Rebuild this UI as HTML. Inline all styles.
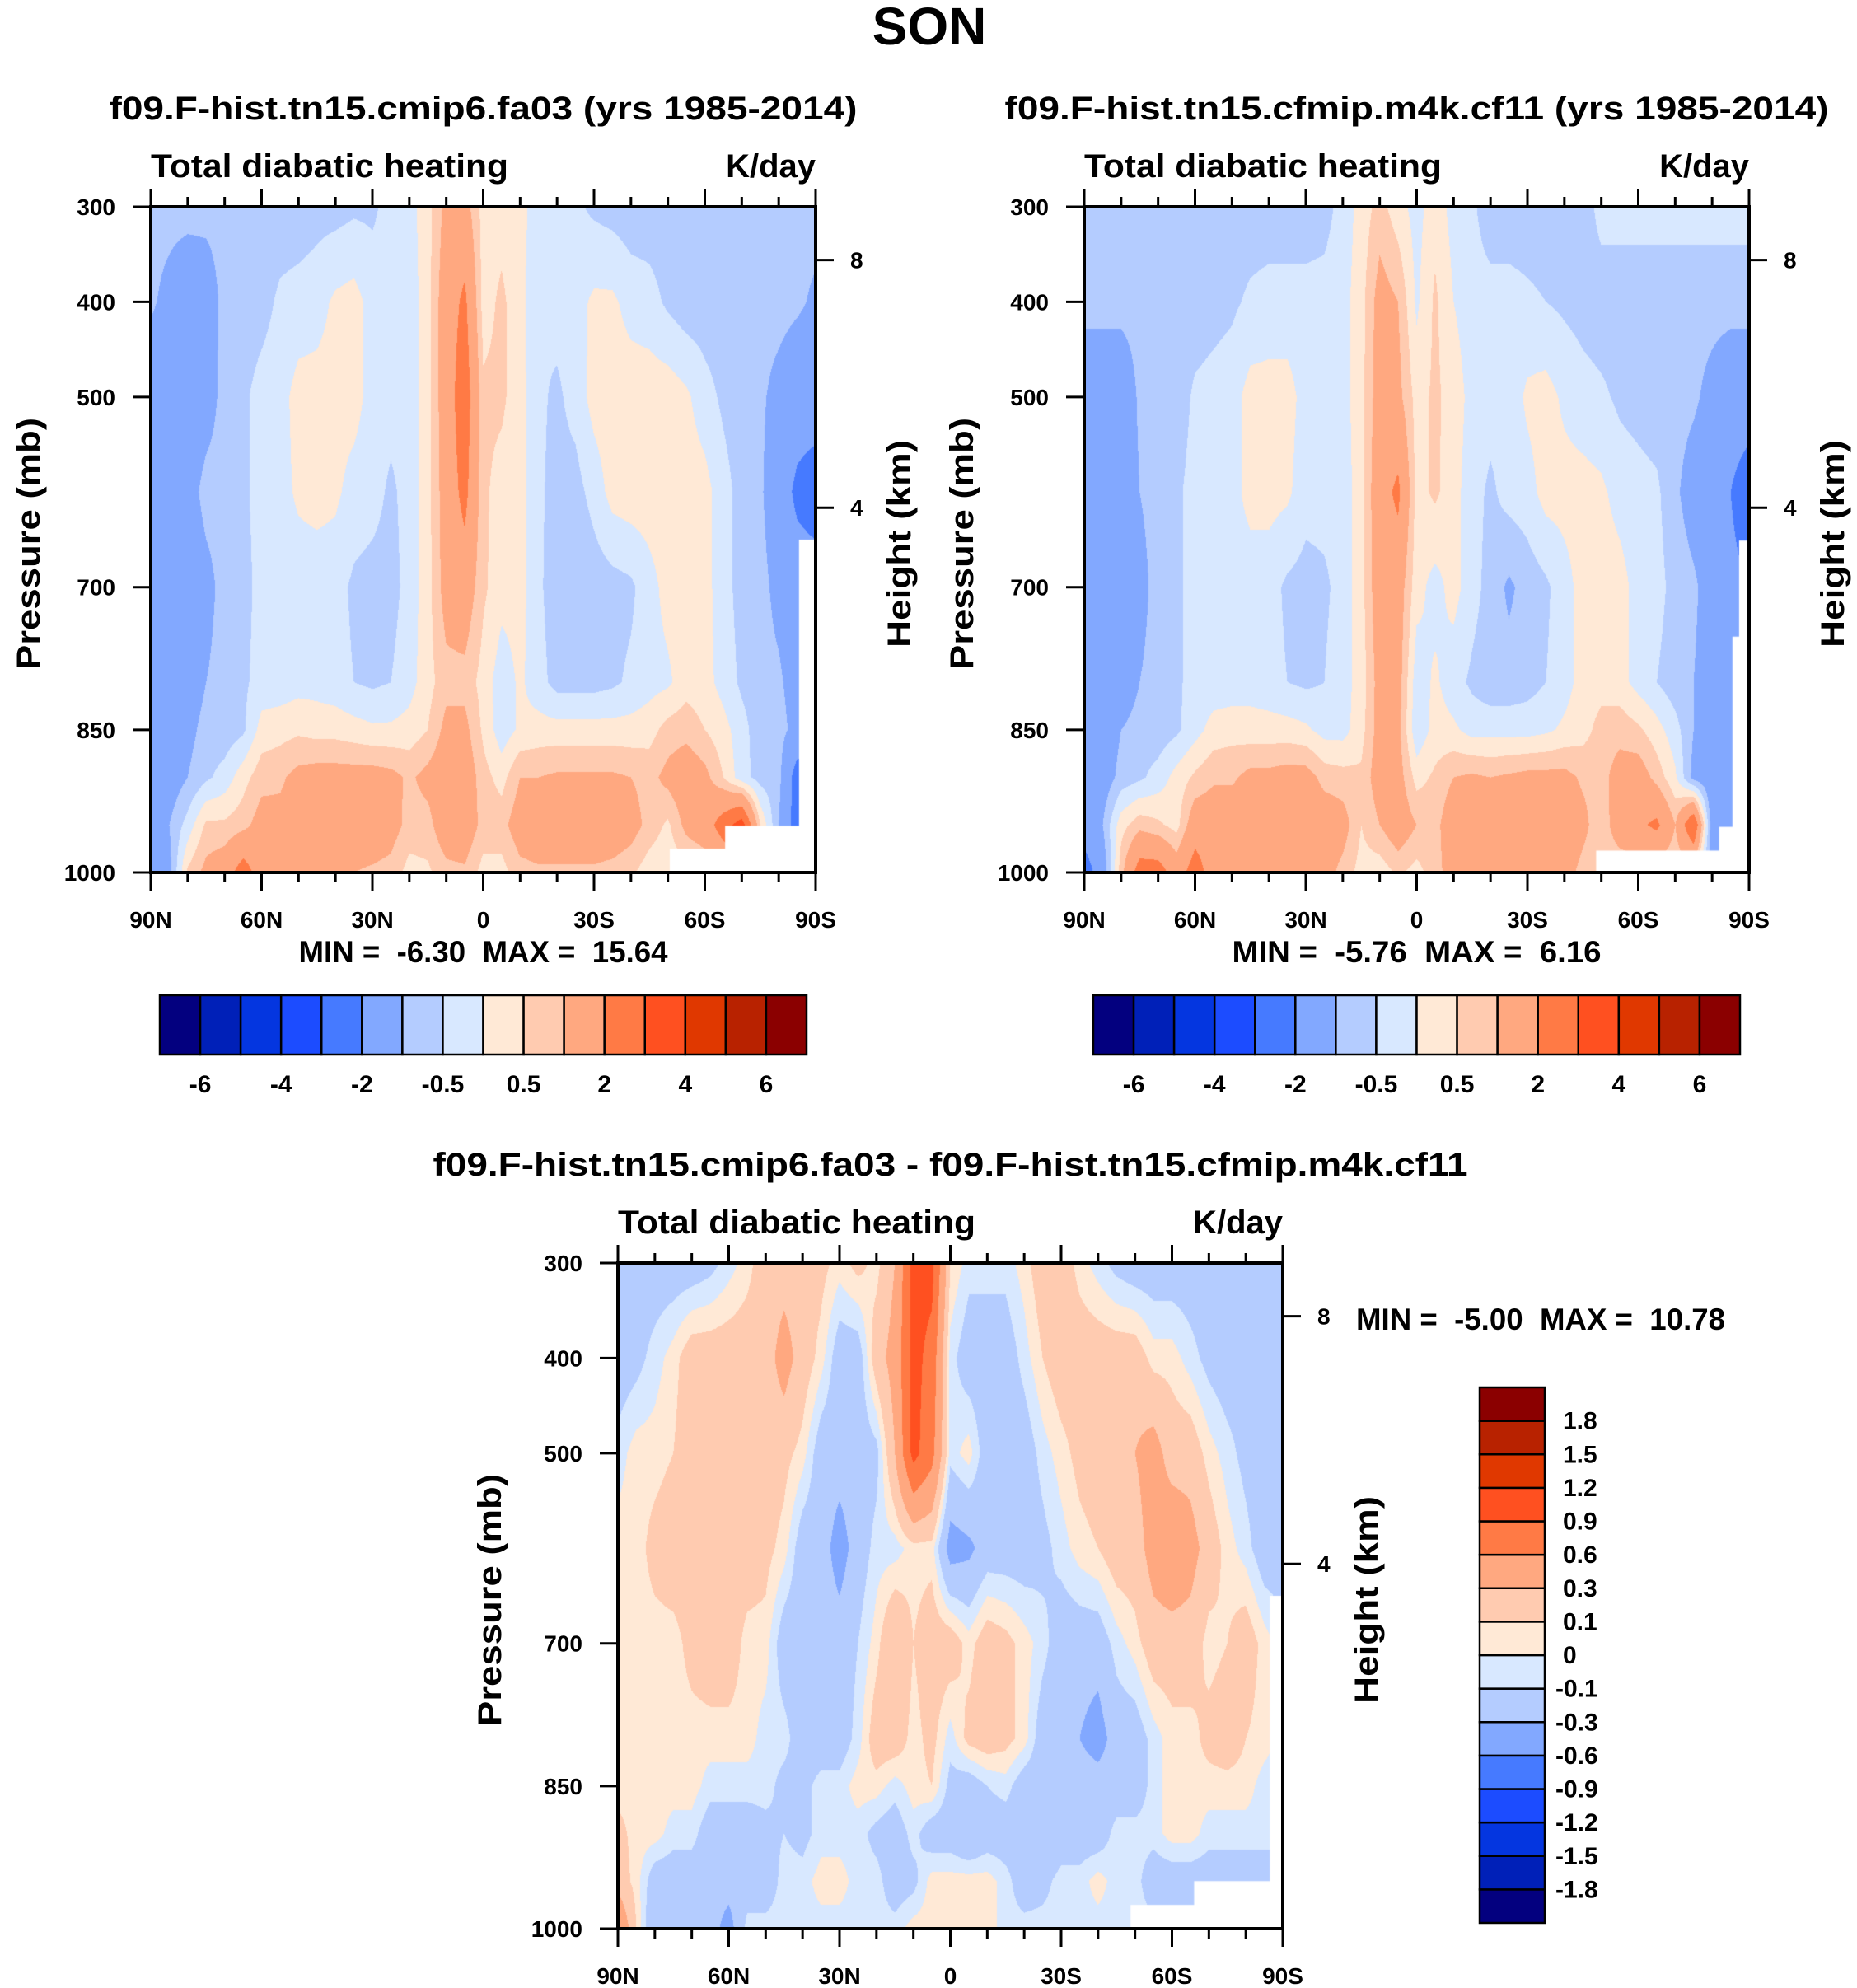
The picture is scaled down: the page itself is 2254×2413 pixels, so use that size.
<!DOCTYPE html>
<html><head><meta charset="utf-8"><style>
html,body{margin:0;padding:0;background:#fff;}
#root{position:relative;width:2254px;height:2413px;overflow:hidden;background:#fff;}
canvas{position:absolute;}
svg{position:absolute;left:0;top:0;}
text{font-family:"Liberation Sans",sans-serif;font-weight:bold;fill:#000;white-space:pre;}
</style></head><body>
<div id="root">
<canvas id="c1"></canvas>
<canvas id="c2"></canvas>
<canvas id="c3"></canvas>
<svg id="ov" width="2254" height="2413"></svg>
</div>
<script>
const lats=[90,85,80,75,70,65,60,55,50,45,40,35,30,25,20,15,10,5,0,-5,-10,-15,-20,-25,-30,-35,-40,-45,-50,-55,-60,-65,-70,-75,-80,-85,-90];
const levels=[300,400,500,600,700,800,850,900,950,1000];
const latTicks=["90N","60N","30N","0","30S","60S","90S"];
const latTickVals=[90,60,30,0,-30,-60,-90];
const pTicks=[300,400,500,700,850,1000];
const hTicks=[8,4];
const colors=["#03007f","#0020b8","#0436e0","#1c4cff","#467aff","#82a8ff","#b4ccff","#d8e8ff","#ffe9d6","#ffcbb0","#ffa880","#ff7a45","#ff5020","#e03800","#b82200","#8b0000"];
const bounds12=[-6,-5,-4,-3,-2,-1,-0.5,0,0.5,1,2,3,4,5,6];
const labels12=["-6","-4","-2","-0.5","0.5","2","4","6"];
const bounds3=[-1.8,-1.5,-1.2,-0.9,-0.6,-0.3,-0.1,0,0.1,0.3,0.6,0.9,1.2,1.5,1.8];
const labels3=["-1.8","-1.5","-1.2","-0.9","-0.6","-0.3","-0.1","0","0.1","0.3","0.6","0.9","1.2","1.5","1.8"];

const field1=[
[-0.8,-0.8,-0.8,-0.8,-0.8,-0.8,-0.8,-0.8,-0.8,-0.7,-0.7,-0.6,-0.6,-0.3,-0.2,0.3,1.2,1.3,0.3,0.3,0.2,-0.3,-0.3,-0.4,-0.6,-0.7,-0.8,-0.8,-0.8,-0.8,-0.8,-0.8,-0.8,-0.8,-0.8,-0.8,-0.8],
[-0.9,-1.2,-1.5,-1.4,-0.8,-0.8,-0.7,-0.4,-0.3,-0.2,0.1,0.2,-0.2,-0.3,-0.3,0.3,1.5,2.2,0.3,0.6,0.2,-0.5,-0.3,-0.2,0.1,0.1,-0.2,-0.3,-0.6,-0.8,-0.8,-0.8,-0.8,-0.8,-0.8,-0.9,-1.1],
[-1.5,-1.5,-1.5,-1.3,-0.8,-0.6,-0.3,-0.2,0.2,0.2,0.2,0.2,-0.2,-0.3,-0.3,0.3,1.5,2.6,0.6,0.6,0.2,-0.4,-0.6,-0.3,0.2,0.3,0.3,0.3,0.3,0.1,-0.3,-0.6,-0.8,-0.9,-1.2,-1.5,-1.5],
[-1.5,-1.5,-1.3,-0.8,-0.8,-0.6,-0.3,-0.2,0.1,0.2,0.1,-0.2,-0.3,-0.6,-0.3,0.3,1.4,2.3,0.6,0.3,0.2,-0.4,-0.7,-0.7,-0.3,0.2,0.3,0.3,0.3,0.3,0.2,-0.3,-0.7,-0.9,-1.5,-2.2,-2.5],
[-1.5,-1.5,-1.5,-1.2,-0.8,-0.7,-0.3,-0.3,-0.3,-0.3,-0.3,-0.6,-0.7,-0.7,-0.3,0.3,1.3,1.5,0.6,0.2,0.2,-0.4,-0.8,-1.0,-0.8,-0.7,-0.6,-0.2,0.2,0.3,0.2,-0.3,-0.7,-0.8,-1.2,-1.5,-1.5],
[-1.5,-1.5,-1.4,-1.0,-0.8,-0.6,-0.3,-0.3,-0.2,-0.2,-0.3,-0.5,-0.6,-0.5,-0.2,0.3,0.8,0.8,0.3,-0.3,0.1,-0.3,-0.7,-0.7,-0.7,-0.6,-0.4,-0.2,-0.1,0.3,0.2,-0.2,-0.6,-0.8,-0.9,-1.3,-1.5],
[-1.5,-1.5,-1.2,-0.8,-0.8,-0.6,0.2,0.3,0.4,0.3,0.3,0.2,0.1,0.1,0.2,0.5,1.2,1.2,0.4,-0.3,0.1,0.2,0.2,0.2,0.2,0.2,0.2,0.3,0.7,0.8,0.5,0.2,-0.3,-0.8,-0.8,-1.2,-1.5],
[-1.5,-1.4,-1.0,-0.6,-0.3,0.3,0.8,0.9,1.2,1.3,1.3,1.3,1.3,1.2,0.9,1.2,1.5,1.5,0.7,0.3,1.0,1.0,1.1,1.1,1.1,1.1,1.0,0.8,1.2,1.5,1.2,0.5,-0.3,-0.7,-0.8,-2.5,-2.5],
[-1.5,-1.0,-0.3,0.6,0.6,0.8,1.3,1.2,1.3,1.5,1.5,1.5,1.5,1.3,0.8,0.8,1.5,1.5,0.8,0.8,1.4,1.5,1.5,1.5,1.5,1.5,1.3,0.8,0.4,1.2,1.5,2.5,3.5,0.5,-1.0,-2.5,-2.5],
[-1.5,-1.2,0.6,1.2,1.5,2.5,1.5,1.0,1.2,1.2,1.0,1.0,0.9,0.8,0.3,0.4,0.8,0.9,0.3,0.3,0.8,0.9,0.9,0.9,0.9,0.8,0.6,0.2,0.1,0.3,0.5,1.0,0.5,0.2,-0.5,-1.0,-1.0]
];
const field2=[
[-0.8,-0.8,-0.8,-0.8,-0.8,-0.8,-0.8,-0.8,-0.8,-0.8,-0.8,-0.8,-0.8,-0.7,-0.3,0.2,0.7,0.2,-0.2,0.3,-0.2,-0.4,-0.8,-0.8,-0.8,-0.8,-0.8,-0.8,-0.3,-0.3,-0.3,-0.3,-0.3,-0.3,-0.3,-0.3,-0.3],
[-0.8,-0.8,-0.8,-0.8,-0.8,-0.8,-0.8,-0.7,-0.6,-0.4,-0.3,-0.3,-0.3,-0.3,-0.2,0.3,1.3,1.0,-0.1,0.6,0.0,-0.3,-0.3,-0.3,-0.4,-0.5,-0.6,-0.7,-0.8,-0.8,-0.8,-0.8,-0.8,-0.8,-0.8,-0.8,-0.8],
[-1.5,-1.5,-1.5,-0.9,-0.8,-0.8,-0.4,-0.3,-0.2,0.2,0.2,0.2,-0.2,-0.3,-0.2,0.3,1.4,1.2,0.3,0.6,0.3,-0.2,-0.3,-0.3,0.1,0.2,-0.1,-0.3,-0.4,-0.6,-0.7,-0.8,-0.8,-0.9,-1.2,-1.5,-1.5],
[-1.5,-1.5,-1.5,-1.0,-0.8,-0.6,-0.3,-0.3,-0.2,0.2,0.2,0.1,-0.3,-0.3,-0.3,0.3,1.6,2.2,0.3,0.6,0.2,-0.3,-0.6,-0.3,-0.2,0.2,0.2,0.2,0.1,-0.2,-0.3,-0.4,-0.9,-1.3,-1.5,-2.0,-2.5],
[-1.5,-1.5,-1.5,-1.2,-0.8,-0.6,-0.3,-0.3,-0.3,-0.3,-0.3,-0.6,-0.7,-0.6,-0.3,0.3,1.5,1.4,0.2,-0.2,0.2,-0.3,-0.7,-1.1,-0.8,-0.6,-0.2,0.2,0.3,0.2,-0.2,-0.3,-0.7,-0.9,-1.3,-1.8,-2.0],
[-1.5,-1.5,-1.4,-1.0,-0.8,-0.6,-0.3,-0.3,-0.3,-0.2,-0.3,-0.5,-0.6,-0.5,-0.2,0.2,1.3,1.3,-0.3,0.1,-0.3,-0.6,-0.8,-0.8,-0.7,-0.5,-0.2,0.2,0.3,0.2,-0.2,-0.5,-0.8,-1.0,-1.3,-1.5,-2.0],
[-1.5,-1.5,-1.0,-0.8,-0.8,-0.6,-0.2,0.2,0.3,0.2,0.2,0.2,0.1,-0.2,-0.2,0.3,1.3,1.2,-0.4,0.2,0.1,-0.2,-0.2,-0.2,-0.2,-0.1,0.1,0.3,0.7,0.8,0.6,0.2,-0.3,-1.0,-1.5,-1.6,-2.0],
[-1.5,-1.4,-0.8,-0.6,-0.3,0.2,0.6,0.9,0.9,1.2,1.2,1.3,1.3,0.8,0.7,0.6,1.4,1.3,0.3,0.6,1.0,1.1,1.0,1.1,1.2,1.2,1.2,0.9,0.8,1.3,1.4,0.8,0.1,-1.2,-1.5,-1.8,-2.0],
[-1.5,-1.0,0.3,0.8,0.6,0.3,1.5,1.5,1.5,1.5,1.5,1.8,1.5,1.5,1.3,0.5,1.0,1.5,1.0,0.8,1.5,1.5,1.5,1.5,1.5,1.5,1.5,1.2,0.6,1.5,1.8,2.2,1.0,3.0,-1.5,-1.5,-1.5],
[-2.5,-1.5,0.8,2.5,2.5,1.5,2.5,1.5,1.3,1.3,1.3,1.3,1.3,1.3,0.8,0.3,0.2,0.6,0.3,0.8,1.3,1.3,1.3,1.3,1.3,1.3,1.3,0.8,0.5,0.5,0.5,0.5,0.5,0.5,-1.5,-1.5,-1.5]
];
const field3=[
[-0.2,-0.2,-0.2,-0.2,-0.2,-0.15,-0.05,0.05,0.2,0.2,0.2,0.15,0.05,0.15,0.05,0.3,1.0,1.0,0.1,-0.05,-0.05,-0.05,0.05,0.2,0.2,0.05,-0.05,-0.15,-0.2,-0.2,-0.2,-0.2,-0.2,-0.2,-0.2,-0.2,-0.2],
[-0.2,-0.15,-0.05,0.05,0.2,0.2,0.2,0.2,0.2,0.4,0.2,0.05,-0.2,-0.2,0.2,0.4,1.0,0.8,-0.05,-0.2,-0.2,-0.2,-0.05,0.1,0.2,0.2,0.2,0.2,0.2,0.05,0.05,-0.05,-0.15,-0.2,-0.2,-0.2,-0.2],
[-0.05,0.05,0.05,0.1,0.2,0.2,0.2,0.2,0.2,0.15,0.05,-0.2,-0.2,-0.2,-0.15,0.3,1.0,0.7,-0.05,0.05,-0.2,-0.2,-0.2,-0.05,0.05,0.15,0.2,0.25,0.3,0.4,0.2,0.2,0.05,-0.05,-0.15,-0.2,-0.2],
[0.05,0.05,0.15,0.2,0.2,0.2,0.2,0.2,0.15,0.05,-0.2,-0.2,-0.4,-0.2,-0.05,-0.05,0.05,0.05,-0.4,-0.35,-0.2,-0.2,-0.2,-0.15,-0.05,0.05,0.1,0.2,0.2,0.4,0.5,0.4,0.2,0.05,-0.05,-0.2,-0.2],
[0.05,0.05,0.05,0.05,0.15,0.2,0.2,0.05,0.05,-0.2,-0.2,-0.2,-0.2,-0.1,0.05,0.3,0.1,0.2,0.2,0.05,0.2,0.15,0.05,-0.05,-0.2,-0.2,-0.2,-0.05,0.05,0.2,0.2,0.2,0.05,0.1,0.2,0.05,-0.05],
[0.05,0.05,0.05,0.05,0.05,0.05,0.05,0.05,-0.05,-0.05,-0.2,-0.2,-0.2,-0.05,0.2,0.2,0.05,0.15,-0.05,0.15,0.2,0.15,0.05,-0.2,-0.2,-0.3,-0.4,-0.2,-0.2,-0.05,0.05,0.05,0.15,0.2,0.1,0.05,-0.05],
[0.05,0.05,0.05,0.05,0.05,-0.05,-0.05,-0.05,-0.05,-0.15,-0.15,-0.05,-0.05,0.05,0.05,-0.05,0.05,0.1,-0.15,-0.2,-0.1,-0.05,-0.2,-0.2,-0.2,-0.2,-0.2,-0.2,-0.2,-0.05,0.05,0.05,0.05,0.05,0.05,-0.05,-0.05],
[0.15,0.05,0.05,-0.05,-0.05,-0.2,-0.2,-0.2,-0.15,-0.1,-0.15,-0.05,-0.05,-0.05,-0.15,-0.2,-0.05,-0.2,-0.2,-0.3,-0.2,-0.2,-0.2,-0.3,-0.2,-0.2,-0.2,-0.05,-0.05,-0.05,0.05,0.05,-0.05,-0.05,-0.05,-0.05,-0.05],
[0.2,0.05,-0.2,-0.2,-0.2,-0.2,-0.2,-0.2,-0.2,-0.05,-0.05,0.05,0.05,-0.05,-0.05,-0.2,-0.15,0.05,0.05,0.05,0.05,-0.05,-0.2,-0.15,-0.05,-0.05,0.05,-0.05,-0.05,-0.2,-0.2,-0.2,-0.2,-0.2,-0.2,-0.2,-0.2],
[0.6,0.1,-0.3,-0.3,-0.3,-0.2,-0.4,-0.05,-0.05,-0.05,-0.05,-0.05,-0.05,-0.05,-0.05,-0.05,0.05,0.05,0.05,0.05,0.05,-0.05,-0.05,-0.05,-0.05,-0.05,-0.05,-0.05,-0.05,-0.05,-0.05,-0.05,-0.05,-0.05,-0.05,-0.05,-0.05]
];
// missing-data masks: [latFrom, latTo, pFrom, pTo]
const mask1=[[-85.5,-90,650,1000],[-65.5,-90,951,1000],[-50.5,-90,975,1000]];
const mask2=[[-87.3,-90,651,1000],[-85.5,-90,752,1000],[-81.9,-90,952,1000],[-48.6,-90,977,1000]];
const mask3=[[-86.5,-90,650,1000],[-66,-90,950,1000],[-48.8,-90,975,1000]];

const panels=[
 {cv:'c1',x0:183,y0:251,w:807,h:808,f:field1,b:bounds12,m:mask1},
 {cv:'c2',x0:1316,y0:251,w:807,h:808,f:field2,b:bounds12,m:mask2},
 {cv:'c3',x0:750,y0:1533,w:807,h:808,f:field3,b:bounds3,m:mask3}
];
function xOf(P,lat){return P.x0+(90-lat)/180*P.w;}
function yOf(P,p){return P.y0+(p-300)/700*P.h;}
function pOfZ(z){return 1013.25*Math.pow(1-2.25577e-5*z*1000,5.25588);}
function hex(c){return [parseInt(c.substr(1,2),16),parseInt(c.substr(3,2),16),parseInt(c.substr(5,2),16)];}
const rgb=colors.map(hex);
function sample(f,lat,p){
  let fi=(90-lat)/5; let i=Math.min(Math.floor(fi),lats.length-2); let ti=fi-i;
  let j=0; while(j<levels.length-2 && p>levels[j+1]) j++;
  let tj=(p-levels[j])/(levels[j+1]-levels[j]); tj=Math.max(0,Math.min(1,tj));
  const a=f[j][i],b=f[j][i+1],c=f[j+1][i],d=f[j+1][i+1];
  return (a*(1-ti)+b*ti)*(1-tj)+(c*(1-ti)+d*ti)*tj;
}
function level(b,v){let k=0;while(k<b.length&&v>=b[k])k++;return k;}
panels.forEach(P=>{
  const cv=document.getElementById(P.cv);
  cv.width=P.w;cv.height=P.h;cv.style.left=P.x0+'px';cv.style.top=P.y0+'px';
  const ctx=cv.getContext('2d');const img=ctx.createImageData(P.w,P.h);
  for(let y=0;y<P.h;y++){const p=300+(y+0.5)/P.h*700;
    for(let x=0;x<P.w;x++){const lat=90-(x+0.5)/P.w*180;
      const c=rgb[level(P.b,sample(P.f,lat,p))];const o=(y*P.w+x)*4;
      img.data[o]=c[0];img.data[o+1]=c[1];img.data[o+2]=c[2];img.data[o+3]=255;}}
  ctx.putImageData(img,0,0);
  ctx.fillStyle='#fff';
  P.m.forEach(r=>{const x1=(90-r[0])/180*P.w,x2=(90-r[1])/180*P.w,y1=(r[2]-300)/700*P.h,y2=(r[3]-300)/700*P.h;ctx.fillRect(x1,y1,x2-x1,y2-y1);});
});

const svg=document.getElementById('ov');const NS='http://www.w3.org/2000/svg';
function el(tag,attrs,txt){const e=document.createElementNS(NS,tag);for(const k in attrs)e.setAttribute(k,attrs[k]);if(txt!==undefined)e.textContent=txt;svg.appendChild(e);return e;}
function line(x1,y1,x2,y2,w){return el('line',{x1:x1,y1:y1,x2:x2,y2:y2,stroke:'#000','stroke-width':w||4});}

let t=el('text',{x:1128,y:54,'font-size':64,'text-anchor':'middle'},'SON');



const titles=["f09.F-hist.tn15.cmip6.fa03 (yrs 1985-2014)","f09.F-hist.tn15.cfmip.m4k.cf11 (yrs 1985-2014)","f09.F-hist.tn15.cmip6.fa03 - f09.F-hist.tn15.cfmip.m4k.cf11"];
const titleY=[145,145,1427];
const titleW=[908,1000,1256];
const minmax=["MIN =  -6.30  MAX =  15.64","MIN =  -5.76  MAX =  6.16","MIN =  -5.00  MAX =  10.78"];
const leftTitleOff=[135,135,142];

panels.forEach((P,k)=>{
  const cx=P.x0+P.w/2;
  t=el('text',{x:cx,y:titleY[k],'font-size':40,'text-anchor':'middle',textLength:titleW[k],lengthAdjust:'spacingAndGlyphs'},titles[k]);
  
  
  t=el('text',{x:P.x0,y:P.y0-36,'font-size':40,textLength:434,lengthAdjust:'spacingAndGlyphs'},'Total diabatic heating');
  
  
  t=el('text',{x:P.x0+P.w,y:P.y0-36,'font-size':40,'text-anchor':'end'},'K/day');
  
  
  const fr=el('rect',{x:P.x0,y:P.y0,width:P.w,height:P.h,fill:'none',stroke:'#000','stroke-width':4});
  
  
  for(let lat=90;lat>=-90;lat-=10){const x=xOf(P,lat);const major=(lat%30===0);const L=major?22:12;
    line(x,P.y0,x,P.y0-L,3);line(x,P.y0+P.h,x,P.y0+P.h+L,3);}
  latTickVals.forEach((v,i)=>{t=el('text',{x:xOf(P,v),y:P.y0+P.h+67,'font-size':28,'text-anchor':'middle'},latTicks[i]);
    
    });
  pTicks.forEach(p=>{const y=yOf(P,p);line(P.x0-22,y,P.x0,y,3);
    t=el('text',{x:P.x0-43,y:y+10,'font-size':28,'text-anchor':'end'},String(p));
    
    });
  hTicks.forEach(h=>{const y=yOf(P,pOfZ(h));line(P.x0+P.w,y,P.x0+P.w+22,y,3);
    t=el('text',{x:P.x0+P.w+42,y:y+10,'font-size':28},String(h));
    
    });
  const yc=P.y0+P.h/2+5;
  const lx=P.x0-leftTitleOff[k];
  t=el('text',{x:lx,y:yc,'font-size':40,'text-anchor':'middle',transform:'rotate(-90 '+lx+' '+yc+')',textLength:306,lengthAdjust:'spacingAndGlyphs'},'Pressure (mb)');
  
  
  const rx=P.x0+P.w+115;
  t=el('text',{x:rx,y:yc,'font-size':40,'text-anchor':'middle',transform:'rotate(-90 '+rx+' '+yc+')',textLength:252,lengthAdjust:'spacingAndGlyphs'},'Height (km)');
  
  
  if(k<2){
    t=el('text',{x:cx,y:1168,'font-size':37,'text-anchor':'middle',textLength:448,lengthAdjust:'spacingAndGlyphs'},minmax[k]);
  } else {
    t=el('text',{x:1646,y:1614,'font-size':37,textLength:448,lengthAdjust:'spacingAndGlyphs'},minmax[k]);
  }
  
  
});

[194,1327].forEach(bx=>{
  const bw=785/16;
  colors.forEach((c,i)=>{const r=el('rect',{x:bx+i*bw,y:1208,width:bw,height:72,fill:c,stroke:'#000','stroke-width':2.5});
    
    });
  labels12.forEach((s,i)=>{t=el('text',{x:bx+(2*i+1)*bw,y:1326,'font-size':30,'text-anchor':'middle'},s);
    
    });
});
{const bx=1796,by=1684,bh=650/16;
 colors.forEach((c,i)=>{const r=el('rect',{x:bx,y:by+(15-i)*bh,width:79,height:bh,fill:c,stroke:'#000','stroke-width':2.5});
   
   });
 labels3.forEach((s,i)=>{t=el('text',{x:s.charAt(0)==='-'?1888:1897,y:by+(15-i)*bh+10,'font-size':30},s);
   
   });
}
</script>
</body></html>
